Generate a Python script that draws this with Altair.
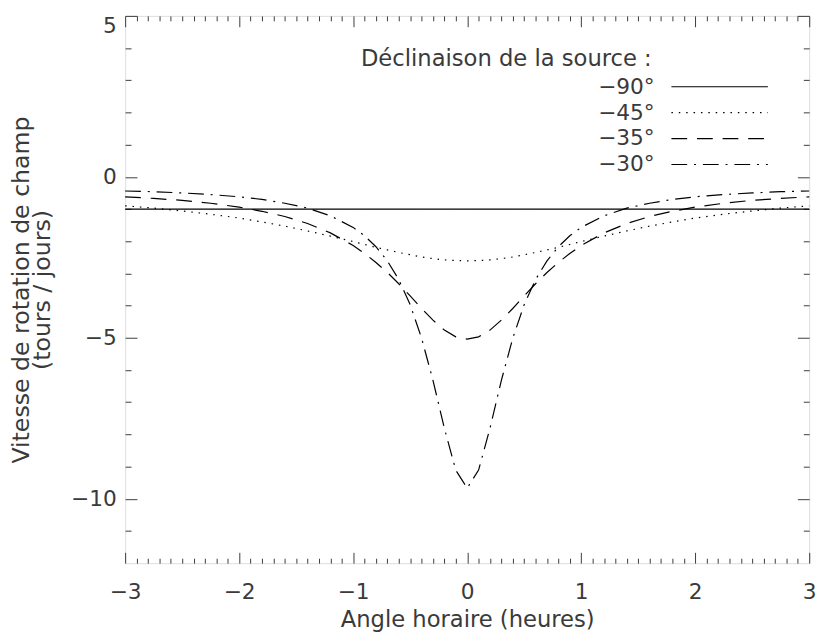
import altair as alt
import pandas as pd

# ---------------- data ----------------
hour_angle = [-3, -2.75, -2.5, -2.25, -2, -1.8, -1.6, -1.4, -1.2, -1,
              -0.9, -0.8, -0.7, -0.6, -0.5, -0.4, -0.3, -0.2, -0.1, 0,
              0.1, 0.2, 0.3, 0.4, 0.5, 0.6, 0.7, 0.8, 0.9, 1,
              1.2, 1.4, 1.6, 1.8, 2, 2.25, 2.5, 2.75, 3]

rate_m90 = [-1.0, -1.0, -1.0, -1.0, -1.0, -1.0, -1.0, -1.0, -1.0, -1.0,
            -1.0, -1.0, -1.0, -1.0, -1.0, -1.0, -1.0, -1.0, -1.0, -1.0,
            -1.0, -1.0, -1.0, -1.0, -1.0, -1.0, -1.0, -1.0, -1.0, -1.0,
            -1.0, -1.0, -1.0, -1.0, -1.0, -1.0, -1.0, -1.0, -1.0]

rate_m45 = [-0.90, -0.97, -1.06, -1.16, -1.28, -1.40, -1.53, -1.68, -1.84, -2.01,
            -2.10, -2.19, -2.27, -2.35, -2.42, -2.49, -2.54, -2.58, -2.60, -2.61,
            -2.60, -2.58, -2.54, -2.49, -2.42, -2.35, -2.27, -2.19, -2.10, -2.01,
            -1.84, -1.68, -1.53, -1.40, -1.28, -1.16, -1.06, -0.97, -0.90]

rate_m35 = [-0.62, -0.67, -0.73, -0.82, -0.94, -1.07, -1.23, -1.45, -1.74, -2.13,
            -2.38, -2.66, -2.97, -3.32, -3.70, -4.09, -4.45, -4.76, -4.97, -5.04,
            -4.97, -4.76, -4.45, -4.09, -3.70, -3.32, -2.97, -2.66, -2.38, -2.13,
            -1.74, -1.45, -1.23, -1.07, -0.94, -0.82, -0.73, -0.67, -0.62]

rate_m30 = [-0.44, -0.46, -0.50, -0.55, -0.62, -0.70, -0.82, -0.97, -1.21, -1.57,
            -1.83, -2.17, -2.61, -3.19, -3.97, -5.01, -6.32, -7.81, -9.11, -9.67,
            -9.11, -7.81, -6.32, -5.01, -3.97, -3.19, -2.61, -2.17, -1.83, -1.57,
            -1.21, -0.97, -0.82, -0.70, -0.62, -0.55, -0.50, -0.46, -0.44]

series_labels = ["\u221290\u00b0", "\u221245\u00b0", "\u221235\u00b0", "\u221230\u00b0"]
series_values = [rate_m90, rate_m45, rate_m35, rate_m30]
legend_title = "D\u00e9clinaison de la source :"

x_major = [-3, -2, -1, 0, 1, 2, 3]
x_minor = [round(-3 + 0.1 * i, 1) for i in range(61) if i % 10 != 0]
y_major = [5, 0, -5, -10]
y_minor = [4, 3, 2, 1, -1, -2, -3, -4, -6, -7, -8, -9, -11]

# ---------------- tables ----------------
rows = []
for lab, vals in zip(series_labels, series_values):
    for h, r in zip(hour_angle, vals):
        rows.append({"h": h, "r": r, "decl": lab})
df = pd.DataFrame(rows)
df_leg = pd.DataFrame({"decl": series_labels})
df_title = pd.DataFrame({"t": [legend_title]})

FONT = "DejaVu Sans"
TC = "#3a3a3a"

xs = alt.Scale(domain=[-3, 3], nice=False, zero=False)
ys = alt.Scale(domain=[-12, 5], nice=False, zero=False)
dash_scale = alt.Scale(domain=series_labels,
                       range=[[1, 0], [1.5, 6], [16, 10], [16, 7, 2, 7]])
row_scale = alt.Scale(type="point", domain=series_labels, range=[72, 151], padding=0)


def tick_axis(orient, values, size):
    return alt.Axis(orient=orient, values=values, ticks=True, tickSize=size,
                    offset=-size, labels=False, domain=False, grid=False,
                    title=None, tickColor=TC, tickWidth=1)


x_main = alt.Axis(orient="bottom", values=x_major, format="d", ticks=False,
                  tickSize=0, domain=False, grid=False, labelFlush=False,
                  labelFont=FONT, labelFontSize=22, labelColor=TC,
                  labelPadding=19, title="Angle horaire (heures)",
                  titleFont=FONT, titleFontSize=23, titleFontWeight="normal",
                  titleColor=TC, titlePadding=6)

y_main = alt.Axis(orient="left", values=y_major, format="d", ticks=False,
                  tickSize=0, domain=False, grid=False, labelFlush=True,
                  labelFont=FONT, labelFontSize=22, labelColor=TC,
                  labelPadding=9,
                  title=["Vitesse de rotation de champ", "(tours / jours)"],
                  titleFont=FONT, titleFontSize=24, titleFontWeight="normal",
                  titleColor=TC, titlePadding=16, titleLineHeight=22)

lines = alt.Chart(df).mark_line(color="black", strokeWidth=1.2).encode(
    x=alt.X("h:Q", scale=xs, axis=x_main),
    y=alt.Y("r:Q", scale=ys, axis=y_main),
    strokeDash=alt.StrokeDash("decl:N", scale=dash_scale, legend=None),
)


def ticks_layer(xa, ya):
    return alt.Chart(df).mark_point(opacity=0).encode(
        x=alt.X("h:Q", scale=xs, axis=xa),
        y=alt.Y("r:Q", scale=ys, axis=ya),
    )


# legend drawn in the upper right of the plot area
leg_lines = alt.Chart(df_leg).mark_rule(color="black", strokeWidth=1.2).encode(
    x=alt.value(555), x2=alt.value(653),
    y=alt.Y("decl:N", scale=row_scale, axis=None),
    strokeDash=alt.StrokeDash("decl:N", scale=dash_scale, legend=None),
)
leg_text = alt.Chart(df_leg).mark_text(
    align="right", baseline="middle", font=FONT, fontSize=22, color=TC
).encode(
    x=alt.value(538),
    y=alt.Y("decl:N", scale=row_scale, axis=None),
    text="decl:N",
)
leg_title = alt.Chart(df_title).mark_text(
    align="right", baseline="middle", font=FONT, fontSize=23, color=TC
).encode(x=alt.value(535), y=alt.value(44), text="t:N")

chart = alt.layer(
    lines,
    ticks_layer(tick_axis("bottom", x_major, 11), tick_axis("left", y_major, 12)),
    ticks_layer(tick_axis("bottom", x_minor, 5), tick_axis("left", y_minor, 6)),
    ticks_layer(tick_axis("top", x_major, 11), tick_axis("right", y_major, 12)),
    ticks_layer(tick_axis("top", x_minor, 5), tick_axis("right", y_minor, 6)),
    leg_lines, leg_text, leg_title,
).resolve_scale(y="independent").resolve_axis(
    x="independent", y="independent"
).properties(
    width=695, height=556,
    padding={"left": 119, "top": 3, "right": 14, "bottom": 70},
    autosize=alt.AutoSizeParams(type="none"),
).configure_view(stroke="#222222", strokeWidth=1.5).configure(background="white")

chart.save("out.html", embed_options={"renderer": "svg", "actions": False})
